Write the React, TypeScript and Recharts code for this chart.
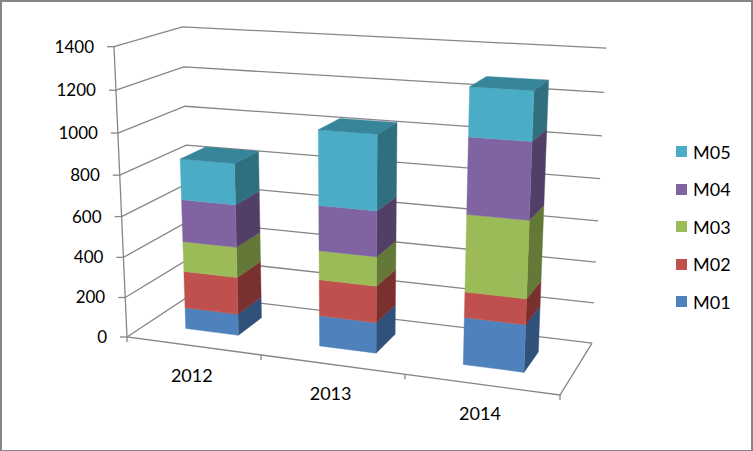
import React from 'react';
import { BarChart, Bar, XAxis, YAxis, CartesianGrid, Legend } from 'recharts';

const years = ['2012', '2013', '2014'];
const m01 = [107, 150, 226];
const m02 = [185, 177, 121];
const m03 = [150, 141, 360];
const m04 = [208, 217, 350];
const m05 = [199, 354, 221];
const yTicks = [0, 200, 400, 600, 800, 1000, 1200, 1400];

const chartData = years.map((year, i) => ({
  year,
  M01: m01[i],
  M02: m02[i],
  M03: m03[i],
  M04: m04[i],
  M05: m05[i],
}));

const seriesList = [
  { key: 'M01', front: '#4F81BD', side: '#30527A' },
  { key: 'M02', front: '#C0504D', side: '#7A302E' },
  { key: 'M03', front: '#9BBB59', side: '#647838' },
  { key: 'M04', front: '#8064A2', side: '#523F68' },
  { key: 'M05', front: '#4BACC6', side: '#306F80' },
];
const topColor = '#37859A';
const lineColor = '#868686';
const fontFamily = 'Lato, Carlito, Calibri, sans-serif';

// flat plot rectangle that recharts lays the bars out in
const PLOT = { left: 127, top: 47, width: 433, height: 290 };

// corners of the 3D box: A origin, C right along the floor, D back along the floor, B up
const A = [127, 337];
const C = [560, 395];
const D = [191, 294.7];
const B = [114, 46.7];
const WU = 0.896;
const WV = 1.088;
const WH = 0.945;

// perspective projection, u across, v into the page, h up, all 0..1
const project = (u: number, v: number, h: number) => {
  const w = 1 + u * (WU - 1) + v * (WV - 1) + h * (WH - 1);
  const px =
    A[0] + u * (WU * C[0] - A[0]) + v * (WV * D[0] - A[0]) + h * (WH * B[0] - A[0]);
  const py =
    A[1] + u * (WU * C[1] - A[1]) + v * (WV * D[1] - A[1]) + h * (WH * B[1] - A[1]);
  return [px / w, py / w];
};

const toU = (x: number) => (x - PLOT.left) / PLOT.width;
const toH = (y: number) => (PLOT.top + PLOT.height - y) / PLOT.height;
const pts = (list: number[][]) => list.map((p) => p.join(',')).join(' ');

// bar depth on the floor
const V0 = 0.3;
const V1 = 0.7;

const Box3D = (props: any) => {
  const { x, y, width, height, front, side, showTop } = props;
  const u0 = toU(x);
  const u1 = toU(x + width);
  const hTop = toH(y);
  const hBot = toH(y + height);
  const frontFace = [project(u0, V0, hBot), project(u1, V0, hBot), project(u1, V0, hTop), project(u0, V0, hTop)];
  const sideFace = [project(u1, V0, hBot), project(u1, V1, hBot), project(u1, V1, hTop), project(u1, V0, hTop)];
  const topFace = [project(u0, V0, hTop), project(u1, V0, hTop), project(u1, V1, hTop), project(u0, V1, hTop)];
  return (
    <g>
      <polygon points={pts(sideFace)} fill={side} stroke={side} strokeWidth={0.4} />
      <polygon points={pts(frontFace)} fill={front} stroke={front} strokeWidth={0.4} />
      {showTop && <polygon points={pts(topFace)} fill={topColor} stroke={topColor} strokeWidth={0.4} />}
    </g>
  );
};

// walls and floor, hung on the grid lines so they follow the value scale
const WallLine = (props: any) => {
  const h = toH(props.y1);
  const isFloor = Math.abs(h) < 0.001;
  const line = [project(0, 0, h), project(0, 1, h), project(1, 1, h)];
  return (
    <g fill="none" stroke={lineColor} strokeWidth={1.3}>
      <polyline points={pts(line)} />
      {isFloor && (
        <>
          <polyline points={pts([project(1, 1, 0), project(1, 0, 0), project(0, 0, 0), project(0, 0, 1)])} />
          {[0, 1, 2, 3].map((i) => {
            const p = project(i / years.length, 0, 0);
            return <line key={i} x1={p[0]} y1={p[1]} x2={p[0]} y2={p[1] + 5} />;
          })}
        </>
      )}
    </g>
  );
};

const ValueTick = (props: any) => {
  const { y, payload } = props;
  const p = project(0, 0, toH(y));
  return (
    <g>
      <line x1={p[0] - 7} y1={p[1]} x2={p[0]} y2={p[1]} stroke={lineColor} strokeWidth={1.3} />
      <text x={p[0] - 20} y={p[1] + 6} textAnchor="end" fontSize={17} fill="#000" fontFamily={fontFamily}>
        {payload.value}
      </text>
    </g>
  );
};

const YearTick = (props: any) => {
  const { x, payload } = props;
  const p = project(toU(x), 0, 0);
  return (
    <text x={p[0] - 1} y={p[1] + 36} textAnchor="middle" fontSize={18} fill="#000" fontFamily={fontFamily}>
      {payload.value}
    </text>
  );
};

const LegendList = () => (
  <div style={{ fontFamily, fontSize: 18, color: '#000' }}>
    {[...seriesList].reverse().map((s) => (
      <div key={s.key} style={{ display: 'flex', alignItems: 'center', height: 37.5 }}>
        <span style={{ width: 11, height: 11, background: s.front, marginRight: 6 }} />
        <span>{s.key}</span>
      </div>
    ))}
  </div>
);

const App = () => {
  return (
    <div
      style={{
        position: 'absolute',
        left: 0,
        top: 0,
        width: 753,
        height: 451,
        boxSizing: 'border-box',
        borderStyle: 'solid',
        borderColor: '#868686',
        borderWidth: '2px 2px 1px 2px',
        background: '#fff',
      }}
    >
      <div style={{ position: 'absolute', left: -2, top: -2 }}>
        <BarChart
          width={753}
          height={451}
          data={chartData}
          barCategoryGap="30%"
          margin={{ top: PLOT.top, right: 103, bottom: 74, left: 67 }}
        >
          <CartesianGrid horizontal={(p: any) => <WallLine key={p.index} {...p} />} vertical={false} />
          <XAxis dataKey="year" height={40} axisLine={false} tickLine={false} tick={<YearTick />} interval={0} />
          <YAxis
            width={60}
            domain={[0, 1400]}
            ticks={yTicks}
            interval={0}
            axisLine={false}
            tickLine={false}
            tick={<ValueTick />}
          />
          <Legend
            layout="vertical"
            align="right"
            verticalAlign="middle"
            width={90}
            content={<LegendList />}
            wrapperStyle={{ left: 676, top: 133, right: 'auto', bottom: 'auto' }}
          />
          {seriesList.map((s, i) => (
            <Bar
              key={s.key}
              dataKey={s.key}
              stackId="a"
              isAnimationActive={false}
              fill={s.front}
              shape={<Box3D front={s.front} side={s.side} showTop={i === seriesList.length - 1} />}
            />
          ))}
        </BarChart>
      </div>
    </div>
  );
};

export default App;
